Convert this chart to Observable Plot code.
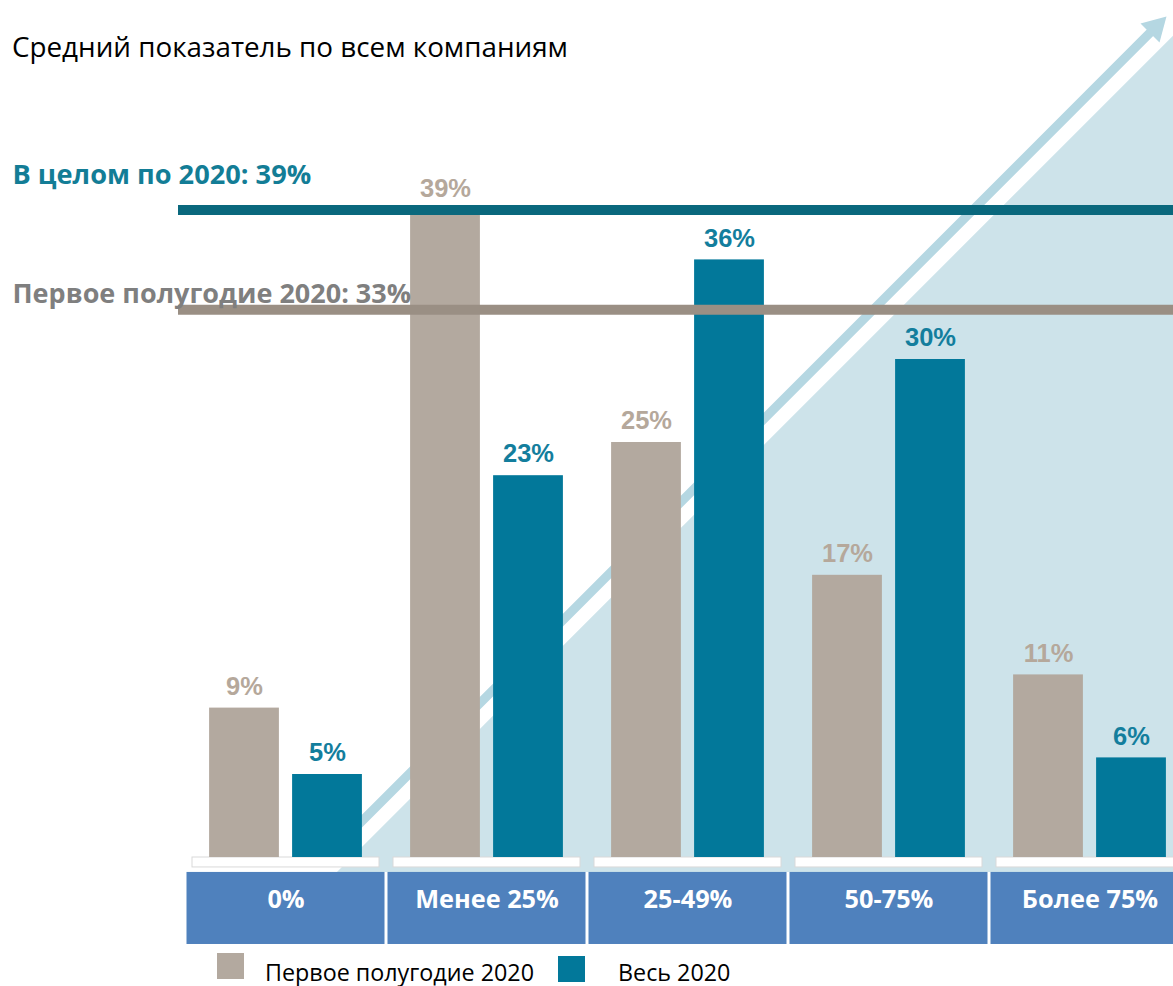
<!DOCTYPE html>
<html><head><meta charset="utf-8">
<script src="https://cdn.jsdelivr.net/npm/d3@7"></script>
<script src="https://cdn.jsdelivr.net/npm/@observablehq/plot@0.6"></script>
<style>
html,body{margin:0;padding:0;background:#fff;overflow:hidden;width:1173px;height:986px;position:relative;}
#title{position:absolute;left:12px;top:33px;font-family:"Open Sans";font-size:27.8px;line-height:1;color:#000;white-space:nowrap;}
#chart{position:absolute;left:0;top:80px;width:1173px;height:868px;}
#chart svg{position:absolute;left:0;top:0;overflow:visible;}
#legend{position:absolute;left:0;top:948px;width:1173px;height:38px;font-family:"Open Sans";font-size:23.3px;color:#000;}
.sw{position:absolute;}
.lt{position:absolute;line-height:1;white-space:nowrap;}
</style></head><body>
<div id="title">Средний показатель по всем компаниям</div>
<div id="chart"></div>
<div id="legend"></div>
<script>
// ---- data ----
const categories = ["0%", "Менее 25%", "25-49%", "50-75%", "Более 75%"];
const firstHalf2020 = [9, 39, 25, 17, 11];
const fullYear2020 = [5, 23, 36, 30, 6];
const seriesNames = ["Первое полугодие 2020", "Весь 2020"];
const averageLabels = ["В целом по 2020", "Первое полугодие 2020"];
const averageValues = [39, 33];
// decorative rising trend (x in category slots, y in %)
const trendFill = [{x: 0.76, y: -0.9}, {x: 5, y: 50.5}];
const trendArrow = [{x: 0.726, y: 0.3}, {x: 4.80, y: 49.7}];
const arrowHead = [{x: 4.826, y: 50.0}];

// ---- colours ----
const C = {
  grey: "#B3A99F", teal: "#02789A", greyLine: "#9A8F84", tealLine: "#0A687D",
  greyLabel: "#B5A89B", tealLabel: "#137E9D", box: "#4F81BD",
  fill: "#CDE3EA", arrow: "#B5D7E2", tealText: "#137D96", greyText: "#7F7F7F"
};

const W = 1173, H = 868;
const yOpt = {domain: [0, 39], range: [777, 129.6], axis: null};
const xRange = [184, 1190];

const greyData = categories.map((c, i) => ({category: c, value: firstHalf2020[i]}));
const tealData = categories.map((c, i) => ({category: c, value: fullYear2020[i]}));
const avg = averageLabels.map((l, i) => ({label: l, value: averageValues[i]}));

const bg = Plot.plot({
  width: W, height: H, margin: 0,
  x: {type: "linear", domain: [0, 5], range: xRange, axis: null},
  y: yOpt,
  style: {background: "transparent", overflow: "visible"},
  marks: [
    Plot.areaY(trendFill, {x: "x", y1: -0.9, y2: "y", fill: C.fill}),
    Plot.line(trendArrow, {x: "x", y: "y", stroke: C.arrow, strokeWidth: 9}),
    Plot.dot(arrowHead, {x: "x", y: "y", symbol: "triangle", r: 10, fill: C.arrow, rotate: 45})
  ]
});

const valueFont = {fontWeight: "bold", fontSize: 25.5, fontFamily: "Liberation Sans, Arial, sans-serif"};
const fg = Plot.plot({
  width: W, height: H, marginLeft: 178, marginRight: 0, marginTop: 0, marginBottom: 0,
  x: {domain: categories, range: xRange, padding: 0, axis: null},
  y: yOpt,
  style: {background: "transparent", overflow: "visible"},
  marks: [
    Plot.barY(categories, {x: d => d, y1: 0, y2: -0.6, fill: "white", stroke: "#D9D9D9", insetLeft: 7, insetRight: 7}),
    Plot.barY(greyData, {x: "category", y: "value", fill: C.grey, dx: -41.5, insetLeft: 65.6, insetRight: 65.6}),
    Plot.barY(tealData, {x: "category", y: "value", fill: C.teal, dx: 41.5, insetLeft: 65.6, insetRight: 65.6}),
    Plot.barY(categories, {x: d => d, y1: -0.9, y2: -5.24, fill: C.box, insetLeft: 1.5, insetRight: 1.5}),
    Plot.text(categories, {x: d => d, y: -2.53, text: d => d, fill: "white", fontWeight: "bold", fontSize: 25.3, fontFamily: "Open Sans"}),
    Plot.ruleY([avg[1]], {y: "value", stroke: C.greyLine, strokeWidth: 10}),
    Plot.ruleY([avg[0]], {y: "value", stroke: C.tealLine, strokeWidth: 10}),
    Plot.text([avg[0]], {y: "value", text: d => `${d.label}: ${d.value}%`, frameAnchor: "left", textAnchor: "start", dx: -166, dy: -35, fill: C.tealText, fontWeight: "bold", fontSize: 27.2, fontFamily: "Open Sans"}),
    Plot.text([avg[1]], {y: "value", text: d => `${d.label}: ${d.value}%`, frameAnchor: "left", textAnchor: "start", dx: -166, dy: -15, fill: C.greyText, fontWeight: "bold", fontSize: 27, fontFamily: "Open Sans"}),
    Plot.text(greyData, {x: "category", y: "value", text: d => d.value + "%", dx: -41.5, dy: -21.5, fill: C.greyLabel, ...valueFont}),
    Plot.text(tealData, {x: "category", y: "value", text: d => d.value + "%", dx: 41.5, dy: -21.5, fill: C.tealLabel, ...valueFont})
  ]
});

const chart = document.getElementById("chart");
chart.appendChild(bg);
chart.appendChild(fg);

// legend
const legend = document.getElementById("legend");
const items = [
  {name: seriesNames[0], color: C.grey, sx: 217, sy: 5, tx: 265},
  {name: seriesNames[1], color: C.teal, sx: 558, sy: 8, tx: 618}
];
for (const it of items) {
  const s = document.createElement("div");
  s.className = "sw";
  s.style.cssText = `left:${it.sx}px;top:${it.sy}px;width:27px;height:26px;background:${it.color}`;
  legend.appendChild(s);
  const t = document.createElement("div");
  t.className = "lt";
  t.style.cssText = `left:${it.tx}px;top:13px;`;
  t.textContent = it.name;
  legend.appendChild(t);
}
</script>
</body></html>
